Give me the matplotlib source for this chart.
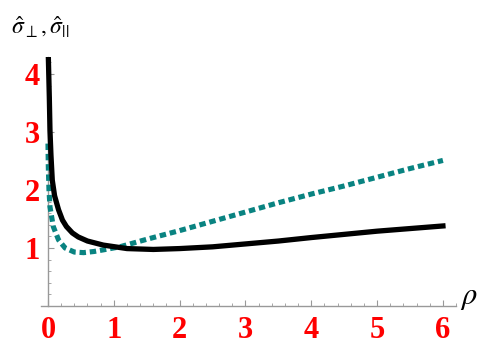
import matplotlib
matplotlib.use("Agg")
import matplotlib.pyplot as plt
from matplotlib.ticker import MultipleLocator

# data
rho_perp = [0.005, 0.02, 0.03, 0.045, 0.065, 0.1, 0.16, 0.22, 0.28, 0.37, 0.46, 0.6, 0.84,
            1.2, 1.6, 2.0, 2.5, 3.0, 3.5, 4.0, 4.5, 5.0, 5.5, 6.0]
sigma_perp = [4.3, 3.6, 3.03, 2.6, 2.17, 1.9, 1.66, 1.48, 1.37, 1.26, 1.19, 1.12, 1.05,
              0.99, 0.975, 0.99, 1.02, 1.07, 1.12, 1.18, 1.235, 1.29, 1.335, 1.38]
rho_par = [0.0, 0.005, 0.015, 0.03, 0.08, 0.16, 0.26, 0.4, 0.54, 0.7, 0.85, 1.09, 1.5,
           2.0, 2.5, 3.0, 3.5, 4.0, 4.5, 5.0, 5.5, 6.0]
sigma_par = [2.8, 2.4, 2.0, 1.71, 1.37, 1.14, 1.0, 0.93, 0.92, 0.94, 0.97, 1.02, 1.15,
             1.30, 1.46, 1.62, 1.78, 1.93, 2.07, 2.22, 2.37, 2.51]
xticks = [0, 1, 2, 3, 4, 5, 6]
yticks = [1, 2, 3, 4]

fig = plt.figure(figsize=(4.85, 3.52), dpi=100)
ax = fig.add_axes([0.0854, 0.1307, 0.855, 0.7085])
ax.set_xlim(-0.1, 6.2)
ax.set_ylim(0, 4.3)

ax.plot(rho_par, sigma_par, color='#098381', lw=3.7, linestyle=(0, (1.25, 0.75)),
        solid_capstyle='butt', dash_capstyle='butt', zorder=3)
ax.plot(rho_perp, sigma_perp, color='black', lw=3.8, zorder=4)

for s in ['top', 'right']:
    ax.spines[s].set_visible(False)
ax.spines['left'].set_position(('data', 0))
ax.spines['bottom'].set_position(('data', 0))
for s in ['left', 'bottom']:
    ax.spines[s].set_color('#999999')
    ax.spines[s].set_linewidth(1.0)

ax.set_xticks(xticks)
ax.set_yticks(yticks)
ax.xaxis.set_minor_locator(MultipleLocator(0.2))
ax.yaxis.set_minor_locator(MultipleLocator(0.2))
ax.tick_params(axis='both', which='major', direction='in', length=4, width=0.8,
               color='#999999', labelcolor='red')
ax.tick_params(axis='both', which='minor', direction='in', length=2.5, width=0.6,
               color='#999999')
ax.tick_params(axis='x', pad=7)
ax.tick_params(axis='y', pad=6)
for lab in ax.get_xticklabels() + ax.get_yticklabels():
    lab.set_fontfamily('Liberation Serif')
    lab.set_fontweight('bold')
    lab.set_fontsize(22)

plt.rcParams['mathtext.fontset'] = 'stix'
fig.text(0.022, 0.96, r'$\hat{\sigma}_{\perp},\hat{\sigma}_{||}$', fontsize=17,
         ha='left', va='top')
fig.text(0.948, 0.115, r'$\rho$', fontsize=22, ha='left', va='bottom')

fig.savefig('out.png', dpi=100)
